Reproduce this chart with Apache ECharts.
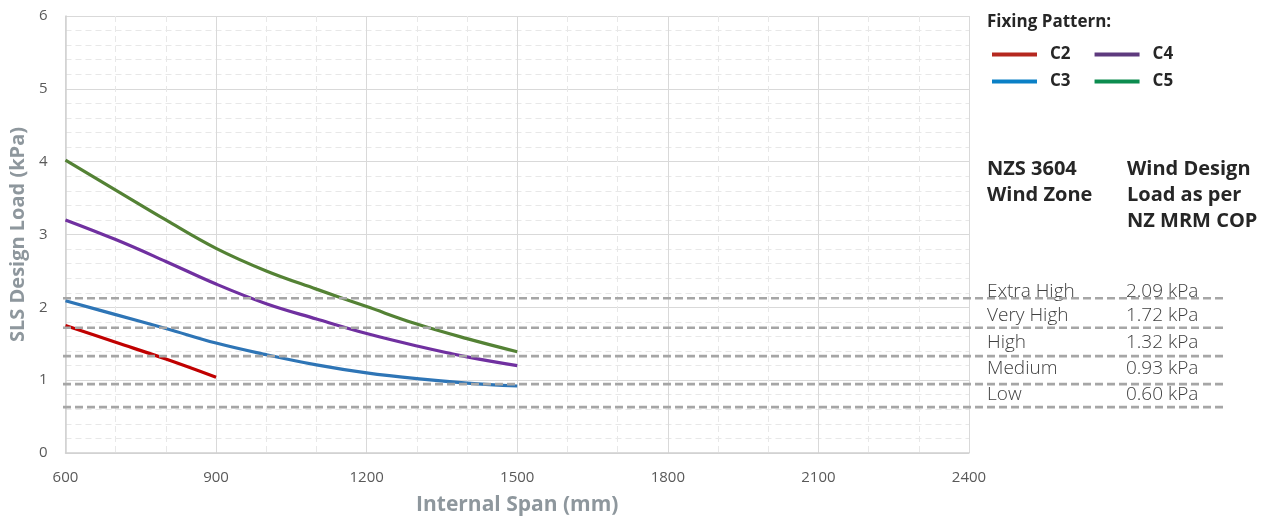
<!DOCTYPE html>
<html>
<head>
<meta charset="utf-8">
<script src="https://cdn.jsdelivr.net/npm/echarts@6/dist/echarts.min.js"></script>
<style>html,body{margin:0;padding:0;background:#fff;}#c{width:1279px;height:523px;}</style>
</head>
<body>
<div id="c"></div>
<script>
const spans = [600, 700, 800, 900, 1000, 1100, 1200, 1300, 1400, 1500];
const c2 = [1.75, 1.52, 1.29, 1.04];
const c3 = [2.09, 1.90, 1.71, 1.51, 1.35, 1.21, 1.10, 1.02, 0.96, 0.92];
const c4 = [3.20, 2.93, 2.63, 2.32, 2.05, 1.84, 1.64, 1.47, 1.32, 1.20];
const c5 = [4.02, 3.61, 3.20, 2.81, 2.50, 2.25, 2.01, 1.77, 1.57, 1.39];
const zoneNames = ['Extra High', 'Very High', 'High', 'Medium', 'Low'];
const zoneLabels = ['2.09 kPa', '1.72 kPa', '1.32 kPa', '0.93 kPa', '0.60 kPa'];
const zoneLines = [2.125, 1.72, 1.33, 0.945, 0.63];
const seriesNames = ['C2', 'C3', 'C4', 'C5'];
const lineColors = ['#c00000', '#2e75b6', '#7030a0', '#548235'];
const legendColors = ['#b5281f', '#0a80c6', '#5e3a7e', '#0c8c4f'];

const FONT = 'Open Sans';
const pair = (xs, ys) => ys.map((v, i) => [xs[i], v]);
const allData = [c2, c3, c4, c5];

const series = seriesNames.map((n, i) => ({
  name: n, type: 'line', xAxisIndex: 0, yAxisIndex: 0,
  data: pair(spans, allData[i]), smooth: 0.4, symbol: 'none',
  lineStyle: { color: lineColors[i], width: 3.2 }, itemStyle: { color: lineColors[i] }, z: 3
}));
zoneLines.forEach((v, i) => series.push({
  name: 'zone' + i, type: 'line', xAxisIndex: 1, yAxisIndex: 1,
  data: [[0, v], [1, v]], symbol: 'none', silent: true, z: 5,
  lineStyle: { color: '#a6a6a6', width: 2.6, type: [8, 4] }
}));

const legendItem = (i) => ({ name: seriesNames[i], itemStyle: { color: legendColors[i] }, lineStyle: { color: legendColors[i] } });
const legendBase = {
  orient: 'horizontal', left: 987, itemWidth: 45, itemHeight: 4, itemGap: 24, icon: 'rect',
  textStyle: { fontFamily: FONT, fontSize: 17, fontWeight: 'bold', color: '#262626', padding: [0, 0, 0, 8] },
  selectedMode: false
};

const graphics = [];
const hdrStyle = { fontFamily: FONT, fontSize: 20, fontWeight: 'bold', fill: '#262626' };
[['NZS 3604', 987, 159], ['Wind Zone', 987, 185], ['Wind Design', 1127, 159], ['Load as per', 1127, 185], ['NZ MRM COP', 1127, 211]].forEach(t => {
  graphics.push({ type: 'text', left: t[1], top: t[2], style: Object.assign({ text: t[0] }, hdrStyle) });
});
const rowTops = [282, 306, 333, 359, 385];
zoneNames.forEach((n, i) => {
  const y = rowTops[i];
  graphics.push({ type: 'text', left: 987, top: y, style: { text: n, fontFamily: FONT, fontSize: 19, fontWeight: 300, fill: '#404040' } });
  graphics.push({ type: 'text', left: 1126, top: y, style: { text: zoneLabels[i], fontFamily: FONT, fontSize: 19, fontWeight: 300, fill: '#404040' } });
});

const option = {
  animation: false,
  backgroundColor: '#ffffff',
  title: { text: 'Fixing Pattern:', left: 982, top: 9, textStyle: { fontFamily: FONT, fontSize: 17, fontWeight: 'bold', color: '#262626' } },
  legend: [
    Object.assign({}, legendBase, { top: 41, data: [legendItem(0), legendItem(2)] }),
    Object.assign({}, legendBase, { top: 68, data: [legendItem(1), legendItem(3)] })
  ],
  grid: [
    { left: 63, top: 16, right: 310, bottom: 70 },
    { left: 63, top: 16, right: 52, bottom: 70 }
  ],
  xAxis: [
    {
      type: 'value', min: 600, max: 2400, interval: 300, gridIndex: 0,
      name: 'Internal Span (mm)', nameLocation: 'middle', nameGap: 42,
      nameTextStyle: { fontFamily: FONT, fontSize: 21, fontWeight: 'bold', color: '#8e979d' },
      axisLine: { show: true, lineStyle: { color: '#d0d0d0', width: 1.5 } },
      axisTick: { show: false },
      axisLabel: { fontFamily: FONT, fontSize: 15, color: '#595959', margin: 17, formatter: v => String(v) },
      splitLine: { show: true, lineStyle: { color: '#d9d9d9', width: 1 } },
      minorTick: { show: false, splitNumber: 3 },
      minorSplitLine: { show: true, lineStyle: { color: '#e8e8e8', width: 1, type: [6, 4] } }
    },
    { type: 'value', min: 0, max: 1, gridIndex: 1, show: false }
  ],
  yAxis: [
    {
      type: 'value', min: 0, max: 6, interval: 1, gridIndex: 0,
      name: 'SLS Design Load (kPa)', nameLocation: 'middle', nameGap: 29,
      nameTextStyle: { fontFamily: FONT, fontSize: 20, fontWeight: 'bold', color: '#8e979d' },
      axisLine: { show: true, lineStyle: { color: '#d0d0d0', width: 1.5 } },
      axisTick: { show: false },
      axisLabel: { fontFamily: FONT, fontSize: 15, color: '#595959', margin: 18 },
      splitLine: { show: true, lineStyle: { color: '#d9d9d9', width: 1 } },
      minorTick: { show: false, splitNumber: 5 },
      minorSplitLine: { show: true, lineStyle: { color: '#e8e8e8', width: 1, type: [6, 4] } }
    },
    { type: 'value', min: 0, max: 6, gridIndex: 1, show: false }
  ],
  graphic: graphics,
  series: series
};
const chart = echarts.init(document.getElementById('c'), null, { renderer: 'canvas' });
chart.setOption(option);
</script>
</body>
</html>
